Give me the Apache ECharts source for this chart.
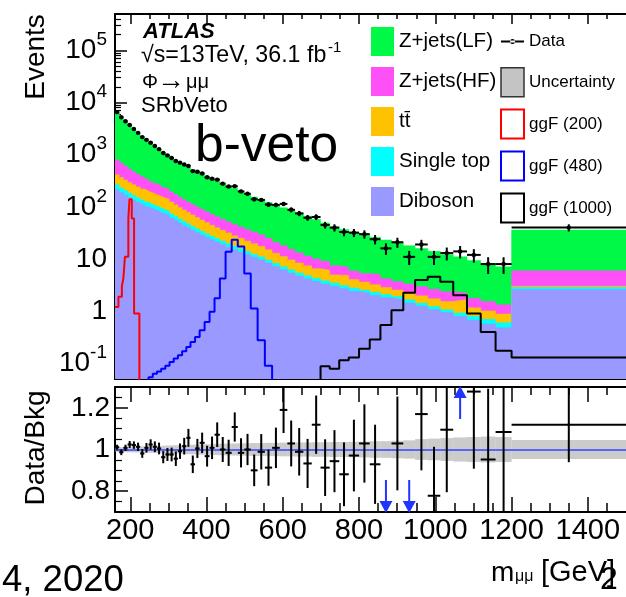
<!DOCTYPE html>
<html><head><meta charset="utf-8">
<script src="https://cdn.jsdelivr.net/npm/echarts@6/dist/echarts.min.js"></script>
<style>html,body{margin:0;padding:0;background:#fff}#c{width:626px;height:597px}</style>
</head><body><div id="c"></div><script>
// ---------------- data ----------------
const binEdges = [160,171,182,193,204,215,226,237,248,259,270,281,292,303,314,325,336,347,358,370,382,395,408,421,435,450,466,482,499,516,534,553,572,592,612,632,654,676,699,723,748,773,800,828,856,885,916,947,980,1013,1047,1083,1119,1158,1200,1500];
const dataCounts = [6572,5221,4395,3721,3121,2630,2179,1929,1702,1469,1279,1081,971,865,757,705,650,610,485,472,438,369,347,333,279,246,248,198,178,140,136,111,109,114,88,75,62,64,45,40,33,32,30,24,16,21,11,19,11,13,14,12,8,8,40];
const zjetsLF = [5700,4597,3755,3101,2585,2175,1843,1573,1353,1169,1017,888,779,693,620,558,503,454,411,370,335,301,272,246,221,198,178,160,141,122,109,97,87,78,71,63,55,47,40,34,30,27,24,21,19,17,14.7,13,11.4,9.9,8.8,7.6,6.7,5.8,30];
const zjetsHF = [388,327,279,239,207,180,157,139,122,108,97,86,78,69,62,56,50.5,45.7,41.4,37.4,33.8,30.5,27.5,25.0,22.4,20.1,18.1,16.3,14.7,13.1,11.7,9.9,8.2,6.9,5.8,4.8,4.0,3.5,3.0,2.5,2.15,1.82,1.66,1.8,1.32,1.18,1.08,0.99,0.91,0.83,0.55,0.60,0.52,0.44,2.95];
const ttbar = [147,133,120,110,100,92,85,79,73,68,64,60,56,50,44,39,34.5,30.8,27.4,24.4,21.6,19.2,17.1,15.2,13.5,11.9,10.5,9.3,8.1,7.3,6.4,5.4,4.6,4.0,3.4,2.95,2.56,2.24,2.3,1.5,1.7,1.28,1.07,0.91,0.76,0.63,0.59,0.55,0.50,0.47,0.75,0.36,0.31,0.28,0.15];
const singleTop = [52,45,39.5,34.8,30.9,27.7,24.8,22.4,20.3,18.4,16.8,15.4,14.2,12.6,10.9,9.6,8.6,7.6,6.7,5.9,5.2,4.6,4.1,3.6,3.2,2.8,2.4,2.1,1.9,1.6,1.4,1.22,1.06,0.92,0.81,0.70,0.64,0.57,0.51,0.46,0.42,0.38,0.34,0.31,0.29,0.26,0.21,0.17,0.15,0.12,0.13,0.13,0.13,0.12,0.25];
const diboson = [213,188,167,150,135,122,111,101,93,86,79,73,68,61,55,49,44,40,36,32,29,26,23.4,21.1,18.9,16.9,15.1,13.5,12.1,10.8,9.7,8.4,7.2,6.2,5.4,4.7,4.2,3.7,3.3,3.0,2.7,2.4,2.2,2.0,1.8,1.65,1.44,1.25,1.08,0.94,0.79,0.67,0.57,0.48,2.6];
const ratioValues = [1.011,0.987,1.008,1.024,1.021,1.013,0.981,1.008,1.024,1.013,1.005,0.963,0.976,0.976,0.956,0.992,1.016,1.056,0.929,1.005,1.032,0.968,1.008,1.071,1.0,0.984,1.108,0.984,1.0,0.9,0.989,0.913,1.008,1.19,1.029,0.989,0.933,1.119,0.913,0.944,0.881,0.971,1.029,0.929,0.68,1.029,0.63,1.17,0.778,1.095,1.33,1.278,0.952,1.084,1.119];
const ratioErrors = [0.012,0.014,0.015,0.017,0.018,0.02,0.021,0.023,0.025,0.026,0.028,0.029,0.031,0.033,0.035,0.037,0.04,0.043,0.042,0.046,0.049,0.05,0.054,0.059,0.06,0.063,0.07,0.07,0.075,0.076,0.085,0.087,0.097,0.111,0.11,0.114,0.118,0.14,0.136,0.149,0.153,0.172,0.188,0.19,0.17,0.225,0.19,0.27,0.235,0.3,0.36,0.37,0.34,0.38,0.18];
const bkgUncertainty = [0.012,0.012,0.013,0.013,0.014,0.014,0.015,0.015,0.016,0.016,0.017,0.018,0.019,0.02,0.02,0.021,0.022,0.022,0.023,0.024,0.025,0.025,0.026,0.027,0.028,0.028,0.029,0.03,0.03,0.031,0.031,0.032,0.032,0.033,0.033,0.034,0.034,0.035,0.035,0.036,0.036,0.037,0.038,0.04,0.04,0.042,0.044,0.05,0.052,0.055,0.058,0.06,0.062,0.06,0.046];
const sigEdges200 = [160,169,178,182,186,195,198,204,210,224,240];
const sig200 = [1.2,1.9,3.0,4.3,11,60,140,60,0.9,0.001];
const sig480 = [0.001,0.001,0.001,0.001,0.001,0.001,0.001,0.001,0.054,0.063,0.07,0.079,0.09,0.106,0.123,0.142,0.17,0.206,0.257,0.32,0.43,0.62,0.97,1.76,4.25,13.8,23.3,17.3,5.3,1.13,0.277,0.09,0.001,0.001,0.001,0.001,0.001,0.001,0.001,0.001,0.001,0.001,0.001,0.001,0.001,0.001,0.001,0.001,0.001,0.001,0.001,0.001,0.001,0.001,0.001];
const sig1000 = [0.001,0.001,0.001,0.001,0.001,0.001,0.001,0.001,0.001,0.001,0.001,0.001,0.001,0.001,0.001,0.001,0.001,0.001,0.001,0.001,0.001,0.001,0.001,0.001,0.001,0.001,0.001,0.001,0.001,0.001,0.001,0.001,0.001,0.001,0.001,0.001,0.001,0.001,0.088,0.079,0.114,0.129,0.19,0.285,0.54,1.04,2.25,3.95,4.57,3.66,2.03,0.9,0.4,0.174,0.129];
const xMajorTicks = [200,400,600,800,1000,1200,1400];
const xMinorTicks = [250,300,350,450,500,550,650,700,750,850,900,950,1050,1100,1150,1250,1300,1350,1450];
const yMajorTicks = [0.1,1,10,100,1000,10000,100000];
const ratioMajorTicks = [0.8,1,1.2];
const ratioMinorTicks = [0.75,0.85,0.9,0.95,1.05,1.1,1.15,1.25];

// ---------------- style ----------------
const FONT = '"Liberation Sans", Arial, Helvetica, sans-serif';
const C = {LF:'#00f846', HF:'#ff50f8', TT:'#ffc200', ST:'#00ffff', DB:'#9999ff'};
const X_MIN = 160, X_MAX = 1500, Y_MIN = 0.05, Y_MAX = 5e5, R_MIN = 0.7, R_MAX = 1.3;

const yMinorTicks = [];
for (let n = -2; n <= 5; n++) for (let k = 2; k <= 9; k++) {
  const v = +(k * Math.pow(10, n)).toPrecision(6);
  if (v > Y_MIN && v < Y_MAX) yMinorTicks.push(v);
}

function stepPoints(edges, vals) {
  return edges.map((e, i) => [e, vals[Math.min(i, vals.length - 1)]]);
}
const bins = binEdges.slice(0, -1).map((e, i) => i);

// stacked background: layers listed from top of the stack to the bottom
const layers = [
  {name: 'Z+jets(LF)', vals: zjetsLF, color: C.LF},
  {name: 'Z+jets(HF)', vals: zjetsHF, color: C.HF},
  {name: 'tt\u0304', vals: ttbar, color: C.TT},
  {name: 'Single top', vals: singleTop, color: C.ST},
  {name: 'Diboson', vals: diboson, color: C.DB}
];
// cumulative height of each layer = its own value plus everything stacked below it
const stackTops = layers.map((L, k) => bins.map(i => {
  let s = 0;
  for (let j = k; j < layers.length; j++) s += layers[j].vals[i];
  return s;
}));

const chart = echarts.init(document.getElementById('c'), null, {renderer: 'canvas'});

function stackSeries(k) {
  const L = layers[k];
  return {
    name: L.name, type: 'line', xAxisIndex: 0, yAxisIndex: 0, step: 'end',
    data: stepPoints(binEdges, stackTops[k]), symbol: 'none', showSymbol: false, silent: true,
    color: L.color, itemStyle: {color: L.color},
    lineStyle: {width: 0.5, color: L.color},
    areaStyle: {color: L.color, opacity: 1, origin: 'start'},
    z: 2, animation: false
  };
}
function sigSeries(name, edges, vals, color) {
  return {
    name, type: 'line', xAxisIndex: 0, yAxisIndex: 0, step: 'end',
    data: stepPoints(edges, vals), symbol: 'none', showSymbol: false, silent: true,
    color, itemStyle: {color}, lineStyle: {width: 2, color}, z: 5, animation: false
  };
}

function renderData(params, api) {
  const x0 = api.value(0), x1 = api.value(1), y = api.value(2), e = api.value(3);
  const xc = (x0 + x1) / 2;
  const pL = api.coord([x0, y]), pR = api.coord([x1, y]), pC = api.coord([xc, y]);
  const pHi = api.coord([xc, y + e]), pLo = api.coord([xc, Math.max(y - e, 1e-4)]);
  return {type: 'group', children: [
    {type: 'line', shape: {x1: pL[0], y1: pL[1], x2: pR[0], y2: pR[1]}, style: {stroke: '#000', lineWidth: 2}},
    {type: 'line', shape: {x1: pC[0], y1: pHi[1], x2: pC[0], y2: pLo[1]}, style: {stroke: '#000', lineWidth: 2}},
    {type: 'circle', shape: {cx: pC[0], cy: pC[1], r: 2.2}, style: {fill: '#000'}}
  ]};
}
function renderBand(params, api) {
  const x0 = api.value(0), x1 = api.value(1), u = api.value(2);
  const a = api.coord([x0, 1 + u]), b = api.coord([x1, 1 - u]);
  return {type: 'rect', shape: {x: a[0], y: a[1], width: b[0] - a[0], height: b[1] - a[1]},
    style: {fill: 'rgba(160,160,160,0.55)'}};
}
function renderRatio(params, api) {
  const x0 = api.value(0), x1 = api.value(1), r = api.value(2), e = api.value(3);
  const xc = (x0 + x1) / 2;
  const blue = '#2233ff';
  if (r < R_MIN || r > R_MAX) {
    const down = r < R_MIN;
    const tip = api.coord([xc, down ? R_MIN : R_MAX]);
    const d = down ? 1 : -1;
    return {type: 'group', children: [
      {type: 'line', shape: {x1: tip[0], y1: tip[1] - d * 32, x2: tip[0], y2: tip[1] - d * 10}, style: {stroke: blue, lineWidth: 2}},
      {type: 'polygon', shape: {points: [[tip[0] - 6.5, tip[1] - d * 11], [tip[0] + 6.5, tip[1] - d * 11], [tip[0], tip[1] + d * 1]]}, style: {fill: blue}}
    ]};
  }
  const pL = api.coord([x0, r]), pR = api.coord([x1, r]), pC = api.coord([xc, r]);
  const pHi = api.coord([xc, Math.min(r + e, R_MAX)]), pLo = api.coord([xc, Math.max(r - e, R_MIN)]);
  return {type: 'group', children: [
    {type: 'line', shape: {x1: pL[0], y1: pL[1], x2: pR[0], y2: pR[1]}, style: {stroke: '#000', lineWidth: 2}},
    {type: 'line', shape: {x1: pC[0], y1: pHi[1], x2: pC[0], y2: pLo[1]}, style: {stroke: '#000', lineWidth: 2}},
    {type: 'circle', shape: {cx: pC[0], cy: pC[1], r: 1.3}, style: {fill: '#000'}}
  ]};
}

const axLine = {show: true, onZero: false, lineStyle: {color: '#000', width: 2}};
function xAx(grid, pos, ticks, len, withLine, withLabels) {
  return {
    gridIndex: grid, type: 'value', position: pos, min: X_MIN, max: X_MAX,
    axisLine: withLine ? axLine : {show: false},
    axisTick: {show: true, inside: true, length: len, customValues: ticks, lineStyle: {color: '#000', width: 1.5}},
    axisLabel: withLabels ? {show: true, customValues: ticks, margin: 4, color: '#000', fontFamily: FONT, fontSize: 29,
      formatter: v => String(v)} : {show: false},
    splitLine: {show: false}, minorTick: {show: false}
  };
}
const logLabelRich = {
  b: {fontSize: 28, fontFamily: FONT, color: '#000', lineHeight: 40, verticalAlign: 'middle'},
  s: {fontSize: 19, fontFamily: FONT, color: '#000', lineHeight: 19, verticalAlign: 'top'}
};
function logLabel(v) {
  const n = Math.round(Math.log10(v));
  if (n === 0) return '{b|1}';
  if (n === 1) return '{b|10}';
  return '{b|10}{s|' + n + '}';
}

const dataIcon = 'path://M0,0h0.01v0.01h-0.01z M22.99,28.99h0.01v0.01h-0.01z M0,13.5h23v2h-23z M9,14.5a2.5,2.5 0 1,0 5,0a2.5,2.5 0 1,0 -5,0z';

function txt(x, y, text, font, extra) {
  const el = {type: 'text', x, y, z: 100, silent: true,
    style: {text, font: font + ' ' + FONT, fill: '#000', align: 'left', verticalAlign: 'middle'}};
  if (extra && extra.rotation) { el.rotation = extra.rotation; el.style.align = 'center'; }
  return el;
}

const option = {
  animation: false,
  backgroundColor: '#fff',
  textStyle: {fontFamily: FONT},
  grid: [
    {left: 115, top: 14, width: 511, height: 365, outerBoundsMode: 'none'},
    {left: 115, top: 387, width: 511, height: 125, outerBoundsMode: 'none'}
  ],
  xAxis: [
    xAx(0, 'bottom', xMajorTicks, 12, true, false),
    xAx(0, 'bottom', xMinorTicks, 7, false, false),
    xAx(0, 'top', xMajorTicks, 10, true, false),
    xAx(0, 'top', xMinorTicks, 5, false, false),
    xAx(1, 'bottom', xMajorTicks, 15, true, true),
    xAx(1, 'bottom', xMinorTicks, 9, false, false),
    xAx(1, 'top', xMajorTicks, 15, true, false),
    xAx(1, 'top', xMinorTicks, 8, false, false)
  ],
  yAxis: [
    {gridIndex: 0, type: 'log', logBase: 10, min: Y_MIN, max: Y_MAX, position: 'left',
      axisLine: axLine,
      axisTick: {show: true, inside: true, length: 12, customValues: yMajorTicks, lineStyle: {color: '#000', width: 1.5}},
      axisLabel: {show: true, customValues: yMajorTicks, margin: 8, formatter: logLabel, rich: logLabelRich},
      splitLine: {show: false}, minorTick: {show: false}},
    {gridIndex: 0, type: 'log', logBase: 10, min: Y_MIN, max: Y_MAX, position: 'left',
      axisLine: {show: false},
      axisTick: {show: true, inside: true, length: 6, customValues: yMinorTicks, lineStyle: {color: '#000', width: 1.2}},
      axisLabel: {show: false}, splitLine: {show: false}},
    {gridIndex: 1, type: 'value', min: R_MIN, max: R_MAX, position: 'left',
      axisLine: axLine,
      axisTick: {show: true, inside: true, length: 13, customValues: ratioMajorTicks, lineStyle: {color: '#000', width: 1.5}},
      axisLabel: {show: true, customValues: ratioMajorTicks, margin: 5, color: '#000', fontFamily: FONT, fontSize: 28,
        formatter: v => (Math.abs(v - 1) < 1e-9 ? '1' : v.toFixed(1))},
      splitLine: {show: false}},
    {gridIndex: 1, type: 'value', min: R_MIN, max: R_MAX, position: 'left',
      axisLine: {show: false},
      axisTick: {show: true, inside: true, length: 7, customValues: ratioMinorTicks, lineStyle: {color: '#000', width: 1.2}},
      axisLabel: {show: false}, splitLine: {show: false}}
  ],
  legend: [
    {orient: 'vertical', left: 371, top: 27, padding: 0, itemWidth: 23, itemHeight: 29, itemGap: 11,
      selectedMode: false, textStyle: {fontFamily: FONT, fontSize: 20.5, color: '#000'},
      data: layers.map(L => ({name: L.name, icon: 'rect', itemStyle: {color: L.color, borderWidth: 0}}))},
    {orient: 'vertical', left: 500, top: 27, padding: 0, itemWidth: 23, itemHeight: 29, itemGap: 11,
      selectedMode: false, textStyle: {fontFamily: FONT, fontSize: 17, color: '#000'},
      data: [
        {name: 'Data', icon: dataIcon, itemStyle: {color: '#000', borderWidth: 0}},
        {name: 'Uncertainty', icon: 'rect', itemStyle: {color: '#c4c4c4', borderColor: '#333', borderWidth: 1.5}},
        {name: 'ggF (200)', icon: 'rect', itemStyle: {color: '#fff', borderColor: '#ff0000', borderWidth: 2}},
        {name: 'ggF (480)', icon: 'rect', itemStyle: {color: '#fff', borderColor: '#0000ff', borderWidth: 2}},
        {name: 'ggF (1000)', icon: 'rect', itemStyle: {color: '#fff', borderColor: '#000', borderWidth: 2}}
      ]}
  ],
  series: [
    stackSeries(0), stackSeries(1), stackSeries(2), stackSeries(3), stackSeries(4),
    sigSeries('ggF (200)', sigEdges200, sig200, '#ff0000'),
    sigSeries('ggF (480)', binEdges, sig480, '#0000ff'),
    sigSeries('ggF (1000)', binEdges, sig1000, '#000000'),
    {name: 'Data', type: 'custom', xAxisIndex: 0, yAxisIndex: 0, renderItem: renderData, clip: true, z: 10, silent: true,
      itemStyle: {color: '#000'},
      encode: {x: [0, 1], y: 2},
      data: bins.map(i => [binEdges[i], binEdges[i + 1], dataCounts[i], Math.sqrt(dataCounts[i])])},
    {name: 'Uncertainty', type: 'custom', xAxisIndex: 4, yAxisIndex: 2, renderItem: renderBand, clip: true, z: 3, silent: true,
      itemStyle: {color: '#c4c4c4'},
      encode: {x: [0, 1], y: 2},
      data: bins.map(i => [binEdges[i], binEdges[i + 1], bkgUncertainty[i]])},
    {name: 'Ratio', type: 'custom', xAxisIndex: 4, yAxisIndex: 2, renderItem: renderRatio, clip: false, z: 10, silent: true,
      encode: {x: [0, 1], y: 2},
      data: bins.map(i => [binEdges[i], binEdges[i + 1], ratioValues[i], ratioErrors[i]]),
      markLine: {silent: true, symbol: 'none', animation: false, label: {show: false},
        lineStyle: {color: '#3344ff', width: 1.5, type: 'solid'}, data: [{yAxis: 1}]}}
  ],
  graphic: {elements: [
    txt(143, 32, 'ATLAS', 'italic bold 22px'),
    txt(141, 56, '\u221As=13TeV, 36.1 fb', '23.2px'),
    txt(328, 48, '-1', '15px'),
    txt(142, 82, '\u03A6', '20px'),
    txt(157, 81, '\u2192', '28px'),
    txt(186, 82, '\u03BC\u03BC', '20px'),
    txt(141, 106, 'SRbVeto', '22px'),
    txt(195, 147, 'b-veto', '51.5px'),
    txt(36, 57, 'Events', '28px', {rotation: Math.PI / 2}),
    txt(36, 448, 'Data/Bkg', '28px', {rotation: Math.PI / 2}),
    txt(491, 573, 'm', '28px'),
    txt(515, 577, '\u03BC\u03BC', '16px'),
    txt(541, 573, '[GeV]', '29px'),
    txt(600, 580, '2', '32px'),
    txt(2, 581, '4, 2020', '36.5px')
  ]}
};
chart.setOption(option);
</script></body></html>
